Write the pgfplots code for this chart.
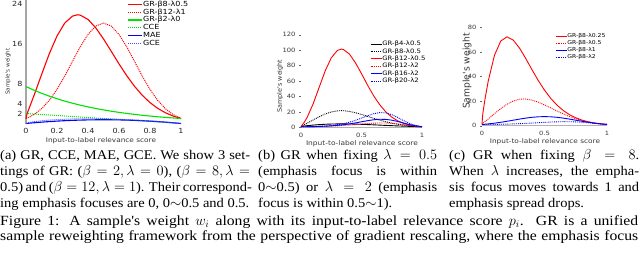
\documentclass[border=0pt]{standalone}
\usepackage{fontspec}
\setmainfont{Liberation Serif}[FakeStretch=1.09]
\newfontfamily\figcapfont{Liberation Serif}[FakeStretch=1.12]
\newfontfamily\pf{DejaVu Sans}[FakeStretch=1.15]
\newfontfamily\pfn{DejaVu Sans}
\usepackage{pgfplots}
\usepackage{pgfplotstable}
\pgfplotsset{compat=1.18}
\definecolor{lgreen}{RGB}{0,225,0}
\definecolor{tgray}{RGB}{55,55,55}

\pgfplotstableread{
p     b2l0  b4l05 b8l05 b12l05 b8l1  b12l1 b8l2  b12l2 b16l2 b20l2 b8l025 cce    mae    gce
0     7.389 1     1     1      1     1     1     1     1     1     1      2      0      0
0.005 7.316 1.325 1.756 2.326  1.041 1.062 1     1     1     1     8.305  1.99   0.0149 0.0731
0.01  7.243 1.486 2.208 3.281  1.082 1.126 1.001 1.001 1.002 1.002 12.23  1.98   0.0297 0.1182
0.025 7.029 1.853 3.434 6.363  1.215 1.340 1.005 1.007 1.010 1.012 22.23  1.95   0.0731 0.2212
0.05  6.686 2.339 5.469 12.79  1.462 1.768 1.019 1.029 1.039 1.049 36.40  1.9    0.1425 0.350
0.1   6.050 3.122 9.747 30.43  2.054 2.945 1.075 1.114 1.155 1.197 57.33  1.8    0.27   0.5387
0.15  5.474 3.731 13.93 51.95  2.773 4.618 1.165 1.258 1.358 1.466 68.86  1.7    0.3825 0.6758
0.2   4.953 4.184 17.50 73.23  3.597 6.821 1.292 1.468 1.669 1.896 72.24  1.6    0.48   0.7778
0.25  4.482 4.482 20.09 90.02  4.482 9.488 1.455 1.755 2.117 2.554 69.58  1.5    0.5625 0.8525
0.3   4.055 4.635 21.48 99.57  5.366 12.43 1.655 2.130 2.740 3.525 63.11  1.4    0.63   0.9041
0.3333 3.794 4.663 21.75 101.4 5.917 14.39 1.809 2.432 3.271 4.399 57.50  1.3333 0.6667 0.9268
0.35  3.669 4.655 21.67 100.9  6.172 15.33 1.891 2.600 3.575 4.916 54.60  1.3    0.6825 0.9352
0.4   3.320 4.563 20.82 95.01  6.821 17.81 2.155 3.165 4.646 6.821 45.49  1.2    0.72   0.9479
0.45  3.004 4.373 19.13 83.68  7.243 19.49 2.438 3.806 5.942 9.277 36.75  1.1    0.7425 0.9435
0.5   2.718 4.114 16.92 69.63  7.389 20.09 2.718 4.482 7.389 12.18 28.90  1.0    0.75   0.9234
0.55  2.460 3.799 14.44 54.84  7.243 19.49 2.971 5.122 8.828 15.22 22.20  0.9    0.7425 0.8883
0.6   2.226 3.453 11.92 41.17  6.821 17.81 3.165 5.629 10.01 17.81 16.71  0.8    0.72   0.8393
0.65  2.014 3.092 9.56  29.56  6.172 15.33 3.264 5.897 10.65 19.25 12.36  0.7    0.6825 0.7766
0.7   1.822 2.729 7.45  20.33  5.366 12.43 3.241 5.836 10.51 18.92 8.982  0.6    0.63   0.7012
0.75  1.649 2.377 5.65  13.44  4.482 9.488 3.080 5.406 9.488 16.65 6.434  0.5    0.5625 0.6132
0.8   1.492 2.045 4.18  8.558  3.597 6.821 2.784 4.646 7.752 12.94 4.539  0.4    0.48   0.5132
0.85  1.350 1.739 3.02  5.257  2.773 4.618 2.380 3.671 5.663 8.737 3.165  0.3    0.3825 0.4016
0.9   1.221 1.462 2.14  3.123  2.054 2.945 1.912 2.643 3.655 5.053 2.180  0.2    0.27   0.2787
0.95  1.105 1.215 1.48  1.794  1.462 1.768 1.435 1.719 2.058 2.466 1.485  0.1    0.1425 0.1447
1     1     1     1     1      1     1     1     1     1     1     1      0      0      0
}\tab

\newcommand\capf{\fontsize{13.3}{16}\selectfont}
\newcommand\figcapf{\figcapfont\fontsize{14}{16}\selectfont}

\pgfplotsset{
  grbase/.style={
    scale only axis, clip=false, anchor=origin,
    xmin=0, xmax=1, ymin=0,
    axis lines=left, axis line style={-},
    /pgf/number format/assume math mode=true,
    legend cell align=left,
    legend image code/.code={\draw[##1] (0pt,0pt) -- (11pt,0pt);},
  },
}

\begin{document}
\begin{tikzpicture}[x=1pt,y=1pt]
\useasboundingbox (0,0) rectangle (640,-260);
\clip (0,0) rectangle (640,-260);

% ---------------- (a)
\begin{axis}[grbase,
  at={(26pt,-123.5pt)},
  width=155pt, height=130pt, ymax=26,
  x axis line style={draw=none},
  y axis line style={draw=black!35, line width=1.4pt},
  xtick={0,0.2,0.4,0.6,0.8,1}, xticklabels={0,0.2,0.4,0.6,0.8,1},
  ytick={2,4,8,16,24}, yticklabels={2,4,8,16,24},
  tick style={draw=none}, major tick length=0pt,
  tick label style={font=\pf\fontsize{7}{8}\selectfont, text=black!85},
  xticklabel style={yshift=-1pt},
  legend image code/.code={\draw[#1] (0pt,0pt) -- (14pt,0pt);},
  legend style={draw=none, fill=none, at={(axis cs:0.635,25.0)}, anchor=north west,
    font=\pf\fontsize{7}{8}\selectfont,
    nodes={inner sep=0.4pt, text height=5.4pt, text depth=1.5pt},
    row sep=0pt},
]
\addplot[red, line width=1.1pt] table[x=p,y=b8l05]{\tab}; \addlegendentry{GR-β8-λ0.5}
\addplot[red, line width=1.0pt, densely dotted] table[x=p,y=b12l1]{\tab}; \addlegendentry{GR-β12-λ1}
\addplot[lgreen, line width=1.1pt] table[x=p,y=b2l0]{\tab}; \addlegendentry{GR-β2-λ0}
\addplot[lgreen, line width=1.0pt, densely dotted] table[x=p,y=cce]{\tab}; \addlegendentry{CCE}
\addplot[blue, line width=1.1pt] table[x=p,y=mae]{\tab}; \addlegendentry{MAE}
\addplot[blue!70, line width=1.0pt, densely dotted] table[x=p,y=gce]{\tab}; \addlegendentry{GCE}
\end{axis}
\node[rotate=90, font=\pfn\fontsize{5.6}{7}\selectfont, text=tgray] at (8,-71.5) {Sample's weight};
\node[font=\pf\fontsize{6.4}{7}\selectfont, text=tgray] at (101,-141) {Input-to-label relevance score};

% ---------------- (b)
\begin{axis}[grbase,
  at={(301pt,-127.5pt)},
  width=121pt, height=92.8pt, ymax=120,
  x axis line style={draw=black!30, line width=1.2pt},
  y axis line style={draw=none},
  xtick={0,0.5,1}, xticklabels={0,0.5,1},
  ytick={0,20,40,60,80,100,120}, yticklabels={0,20,40,60,80,100,120},
  xtick style={draw=none}, ytick style={draw=black!60, line width=0.4pt},
  tick align=outside, major tick length=2pt,
  tick label style={font=\pf\fontsize{5.9}{7}\selectfont, text=tgray},
  legend style={draw=none, fill=none, at={(axis cs:0.545,115)}, anchor=north west,
    font=\pf\fontsize{6}{7}\selectfont,
    nodes={inner sep=0.3pt, text height=4.6pt, text depth=1.3pt},
    row sep=0.9pt},
]
\addplot[black, line width=0.9pt] table[x=p,y=b4l05]{\tab}; \addlegendentry{GR-β4-λ0.5}
\addplot[black, line width=0.9pt, densely dotted] table[x=p,y=b8l05]{\tab}; \addlegendentry{GR-β8-λ0.5}
\addplot[red, line width=0.9pt] table[x=p,y=b12l05]{\tab}; \addlegendentry{GR-β12-λ0.5}
\addplot[red, line width=0.9pt, densely dotted] table[x=p,y=b12l2]{\tab}; \addlegendentry{GR-β12-λ2}
\addplot[blue, line width=0.9pt] table[x=p,y=b16l2]{\tab}; \addlegendentry{GR-β16-λ2}
\addplot[blue, line width=0.9pt, densely dotted] table[x=p,y=b20l2]{\tab}; \addlegendentry{GR-β20-λ2}
\end{axis}
\node[rotate=90, font=\pfn\fontsize{6.4}{7}\selectfont, text=tgray] at (280,-86) {Sample's weight};
\node[font=\pf\fontsize{6.5}{8}\selectfont, text=tgray] at (362,-143.5) {Input-to-label relevance score};

% ---------------- (c)
\begin{axis}[grbase,
  at={(482pt,-125.7pt)},
  width=125pt, height=98.4pt, ymax=80,
  x axis line style={draw=black!30, line width=1.2pt},
  y axis line style={draw=none},
  xtick={0,0.5,1}, xticklabels={0,0.5,1},
  ytick={0,20,40,60,80}, yticklabels={0,20,40,60,80},
  xtick style={draw=none}, ytick style={draw=black!60, line width=0.4pt},
  tick align=outside, major tick length=2pt,
  tick label style={font=\pf\fontsize{5.8}{7}\selectfont, text=tgray},
  legend style={draw=none, fill=none, at={(axis cs:0.56,77)}, anchor=north west,
    font=\pf\fontsize{5.3}{7}\selectfont,
    nodes={inner sep=0.3pt, text height=4.4pt, text depth=1.3pt},
    row sep=0.6pt},
]
\addplot[red, line width=0.9pt] table[x=p,y=b8l025]{\tab}; \addlegendentry{GR-β8-λ0.25}
\addplot[red, line width=0.9pt, densely dotted] table[x=p,y=b8l05]{\tab}; \addlegendentry{GR-β8-λ0.5}
\addplot[blue, line width=0.9pt] table[x=p,y=b8l1]{\tab}; \addlegendentry{GR-β8-λ1}
\addplot[blue, line width=0.9pt, densely dotted] table[x=p,y=b8l2]{\tab}; \addlegendentry{GR-β8-λ2}
\end{axis}
\node[rotate=90, font=\pfn\fontsize{9.2}{10}\selectfont, text=tgray] at (467,-71) {Sample's weight};
\node[font=\pf\fontsize{6.4}{8}\selectfont, text=tgray] at (545,-142) {Input-to-label relevance score};

% ---------------- captions
\begin{scope}[every node/.style={anchor=base west, inner sep=0pt, font=\capf}]
\node at (0,-159) {\makebox[250pt][s]{(a) GR, CCE, MAE, GCE. We show 3 set-}};
\node at (0,-175) {\makebox[250pt][s]{tings of GR: ($\beta=2,\lambda=0$), ($\beta=8,\lambda=$}};
\node at (0,-191) {\makebox[250pt][s]{0.5) and ($\beta=12,\lambda=1$). Their correspond-}};
\node at (0,-207) {ing emphasis focuses are 0, 0$\sim$0.5 and 0.5.};

\node at (258,-159) {\makebox[179pt][s]{(b) GR when fixing $\lambda=0.5$}};
\node at (258,-175) {\makebox[179pt][s]{(emphasis focus is within}};
\node at (258,-191) {\makebox[179pt][s]{0$\sim$0.5) or $\lambda=2$ (emphasis}};
\node at (258,-207) {focus is within 0.5$\sim$1).};

\node at (449,-159) {\makebox[190pt][s]{(c) GR when fixing $\beta=8$.}};
\node at (449,-175) {\makebox[190pt][s]{When $\lambda$ increases, the empha-}};
\node at (449,-191) {\makebox[190pt][s]{sis focus moves towards 1 and}};
\node at (449,-207) {emphasis spread drops.};
\end{scope}
\begin{scope}[every node/.style={anchor=base west, inner sep=0pt, font=\figcapf}]
\node at (0,-225) {\makebox[638pt][s]{Figure 1: A sample's weight $w_i$ along with its input-to-label relevance score $p_i$. GR is a unified}};
\node at (0,-240) {\makebox[638pt][s]{sample reweighting framework from the perspective of gradient rescaling, where the emphasis focus}};
\end{scope}
\end{tikzpicture}
\end{document}
